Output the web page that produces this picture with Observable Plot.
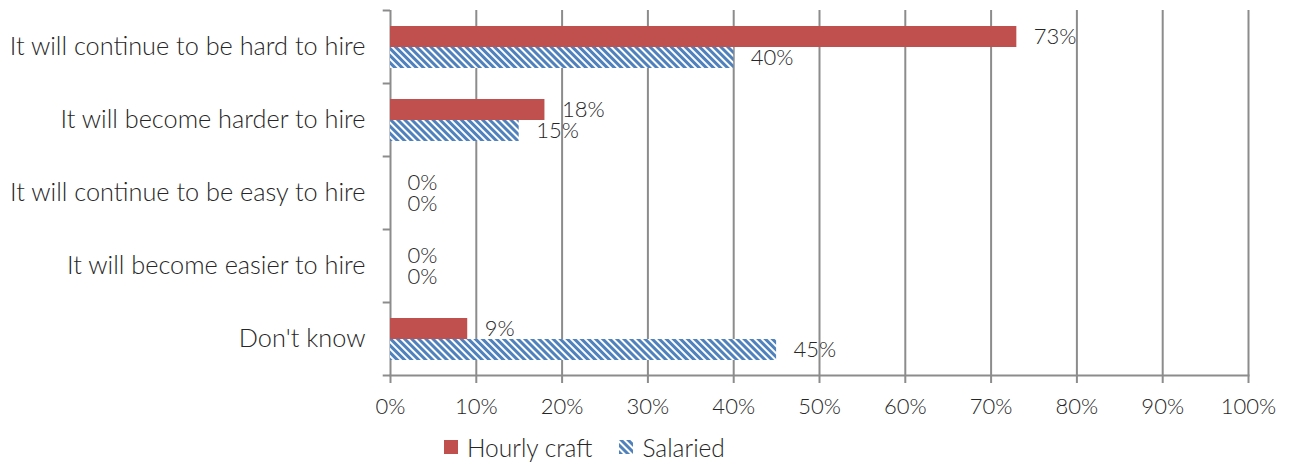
<!DOCTYPE html>
<html><head><meta charset="utf-8">
<script src="https://cdn.jsdelivr.net/npm/d3@7"></script>
<script src="https://cdn.jsdelivr.net/npm/@observablehq/plot@0.6"></script>
<style>
body{margin:0;background:#fff;font-family:Lato, sans-serif;font-weight:300;}
#legend{display:flex;align-items:center;margin-left:444px;margin-top:4px;font-size:24.5px;color:#262626;height:36px;}
#legend .item{display:flex;align-items:center;margin-right:27px;}
#legend svg{margin-right:9px;}
</style></head><body>
<div id="chart"></div>
<div id="legend"></div>
<script>
const categories = [
  "It will continue to be hard to hire",
  "It will become harder to hire",
  "It will continue to be easy to hire",
  "It will become easier to hire",
  "Don't know"
];
const seriesNames = ["Hourly craft", "Salaried"];
const hourlyCraft = [0.73, 0.18, 0, 0, 0.09];
const salaried = [0.40, 0.15, 0, 0, 0.45];
const xTicks = [0, 0.1, 0.2, 0.3, 0.4, 0.5, 0.6, 0.7, 0.8, 0.9, 1.0];

const red = "#C0504D";
const blue = "#4F81BD";
const grid = "#8c8c8c";
const textColor = "#262626";
const pct = d3.format(".0%");

const data = categories.map((c, i) => ({category: c, hourly: hourlyCraft[i], salaried: salaried[i]}));

const bandH = 73;
const chart = Plot.plot({
  width: 1297, height: 425,
  marginLeft: 390, marginRight: 49, marginTop: 10, marginBottom: 50,
  style: {fontFamily: "Lato, sans-serif", fontWeight: 300, fontSize: "22px", color: textColor, background: "#fff", overflow: "visible"},
  x: {domain: [0, 1]},
  y: {domain: categories, padding: 0},
  marks: [
    Plot.ruleX(xTicks, {stroke: grid, strokeWidth: 2, strokeOpacity: 1}),
    Plot.barX(data, {y: "category", x: "hourly", fill: red, insetTop: 16, insetBottom: 36}),
    Plot.barX(data, {y: "category", x: "salaried", fill: "url(#salStripes)", insetTop: 37, insetBottom: 15}),
    Plot.text(data, {y: "category", x: "hourly", text: d => pct(d.hourly), textAnchor: "start", dx: 17, dy: -10, fill: textColor, fontSize: 22}),
    Plot.text(data, {y: "category", x: "salaried", text: d => pct(d.salaried), textAnchor: "start", dx: 17, dy: 11, fill: textColor, fontSize: 22}),
    Plot.frame({anchor: "bottom", stroke: grid, strokeWidth: 2, strokeOpacity: 1}),
    Plot.axisX({ticks: xTicks, tickFormat: pct, tickSize: 8, tickPadding: 15, stroke: grid, strokeWidth: 2, strokeOpacity: 1, fill: textColor, fontSize: 22, label: null}),
    Plot.axisY({tickSize: 0, tickPadding: 25, fill: textColor, fontSize: 25.3, label: null}),
    Plot.ruleY(categories, {y: d => d, dy: -bandH / 2, x1: -0.0085, x2: 0, stroke: grid, strokeWidth: 2, strokeOpacity: 1}),
    Plot.ruleY(categories.slice(-1), {y: d => d, dy: bandH / 2, x1: -0.0085, x2: 0, stroke: grid, strokeWidth: 2, strokeOpacity: 1})
  ]
});

const patternDefs = `
<defs>
  <pattern id="salStripes" patternUnits="userSpaceOnUse" width="5" height="5" patternTransform="rotate(-45)">
    <rect width="5" height="5" fill="#fff"></rect>
    <rect width="3" height="5" fill="${blue}"></rect>
  </pattern>
</defs>`;
chart.insertAdjacentHTML("afterbegin", patternDefs);
document.getElementById("chart").appendChild(chart);

const legend = document.getElementById("legend");
seriesNames.forEach((name, i) => {
  const item = document.createElement("div");
  item.className = "item";
  const fill = i === 0 ? red : "url(#legStripes)";
  item.innerHTML = `<svg width="14" height="14"><defs><pattern id="legStripes" patternUnits="userSpaceOnUse" width="5" height="5" patternTransform="rotate(-45)"><rect width="5" height="5" fill="#fff"></rect><rect width="3" height="5" fill="${blue}"></rect></pattern></defs><rect width="14" height="14" fill="${fill}"></rect></svg><span>${name}</span>`;
  legend.appendChild(item);
});
</script>
</body></html>
